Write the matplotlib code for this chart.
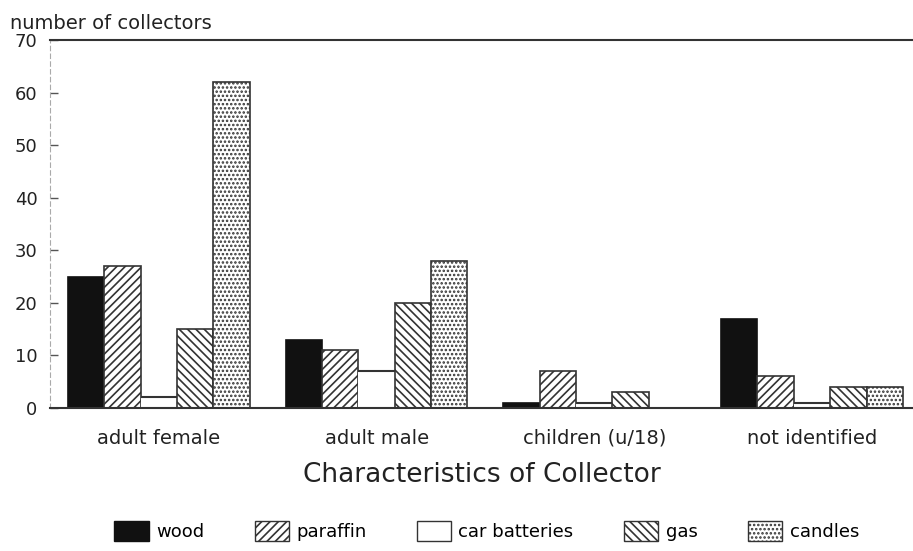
import matplotlib
matplotlib.use("Agg")
import matplotlib.pyplot as plt
import matplotlib.patches as mpatches
import numpy as np

plt.rcParams['font.family'] = ['DejaVu Sans']
plt.rcParams['hatch.linewidth'] = 1.2

categories = ["adult female", "adult male", "children (u/18)", "not identified"]
series_names = ["wood", "paraffin", "car batteries", "gas", "candles"]
wood = [25, 13, 1, 17]
paraffin = [27, 11, 7, 6]
car_batteries = [2, 7, 1, 1]
gas = [15, 20, 3, 4]
candles = [62, 28, 0, 4]
y_ticks = [0, 10, 20, 30, 40, 50, 60, 70]

series = [wood, paraffin, car_batteries, gas, candles]
styles = [
    dict(facecolor="#111111", edgecolor="#111111", hatch=None),
    dict(facecolor="white", edgecolor="#333333", hatch="////"),
    dict(facecolor="white", edgecolor="none", hatch=None),
    dict(facecolor="white", edgecolor="#333333", hatch="\\\\\\\\"),
    dict(facecolor="white", edgecolor="#333333", hatch="...."),
]

fig = plt.figure(figsize=(9.13, 5.51), dpi=100)
ax = fig.add_axes([0.0548, 0.2595, 0.9452, 0.668])

x = np.arange(len(categories))
w = 0.167
offsets = (np.arange(5) - 2) * w
for vals, st, off in zip(series, styles, offsets):
    ax.bar(x + off, vals, w, linewidth=1.2, **st)
    if st["edgecolor"] == "none":
        ax.hlines(vals, x + off - w / 2, x + off + w / 2, color="#333333", linewidth=1.5)

ax.set_xlim(-0.5, 3.464)
ax.set_ylim(0, 70)
ax.set_yticks(y_ticks)
ax.set_yticklabels([str(t) for t in y_ticks], fontsize=13, color="#222222")
ax.tick_params(axis="y", direction="in", length=6, width=1, color="#555555", pad=9)
ax.set_xticks(x)
ax.set_xticklabels(categories, fontsize=14, color="#222222")
ax.tick_params(axis="x", length=0, pad=15)

ax.spines["right"].set_visible(False)
ax.spines["top"].set_linewidth(1.5)
ax.spines["top"].set_color("#333333")
ax.spines["bottom"].set_linewidth(1.5)
ax.spines["bottom"].set_color("#333333")
ax.spines["left"].set_linewidth(0.8)
ax.spines["left"].set_color("#aaaaaa")
ax.spines["left"].set_linestyle((0, (4, 3)))

fig.text(0.011, 0.975, "number of collectors", fontsize=14, color="#222222", va="top", ha="left")
ax.set_xlabel("Characteristics of Collector", fontsize=19, color="#222222", labelpad=10)

handles = []
for name, st in zip(series_names, styles):
    if st["edgecolor"] == "none":
        h = mpatches.Rectangle((0, 0), 1, 1, facecolor="white", edgecolor="#333333", linewidth=1.0)
    else:
        h = mpatches.Patch(facecolor=st["facecolor"], edgecolor=st["edgecolor"], hatch=st["hatch"], linewidth=1.0)
    handles.append(h)
fig.legend(handles, series_names, loc="lower center", bbox_to_anchor=(0.533, -0.012), ncol=5,
           frameon=False, fontsize=13, handlelength=1.9, handleheight=1.3, columnspacing=2.8,
           handletextpad=0.4)

fig.savefig("out.png", dpi=100, facecolor="white")
